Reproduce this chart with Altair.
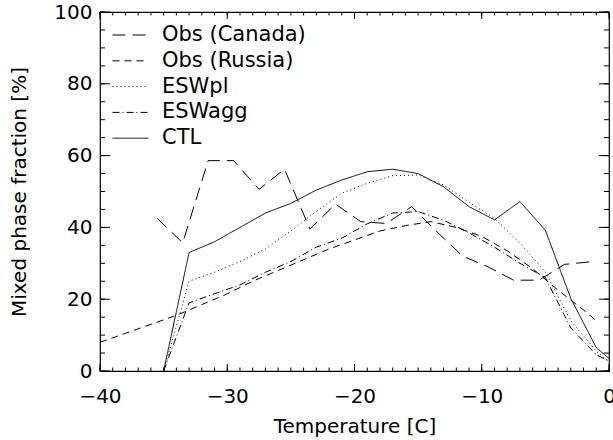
import altair as alt
import pandas as pd

# ---- data ----
t_model = [-35, -33, -31, -29, -27, -25, -23, -21, -19, -17, -15, -13, -11, -9, -7, -5, -3, -1, 0]
ctl = [0, 33, 36, 40, 44, 46.7, 50.4, 53.2, 55.5, 56.2, 55.0, 51.3, 45.8, 42.1, 47.2, 39.2, 20.2, 6.5, 3.5]
eswpl = [0, 25, 27.5, 30.5, 34, 39, 44.5, 49.5, 52.3, 54.4, 54.6, 51.8, 47, 42.5, 35.6, 27.5, 14, 5.5, 2.5]
eswagg = [0, 19, 21.5, 24, 27.5, 30.5, 34.5, 37, 41, 44, 44.4, 42, 38.5, 34.5, 30, 26, 12, 4.5, 2.8]

t_canada = [-35.5, -33.5, -31.5, -29.5, -27.5, -25.5, -23.5, -21.5, -19.5, -17.5,
            -15.5, -13.5, -11.5, -9.5, -7.5, -5.5, -3.5, -1.5]
canada = [42.5, 35.7, 58.6, 58.6, 50.6, 56.2, 39.5, 46.5, 41.6, 41.1,
          45.8, 38.7, 32, 29, 25.3, 25.3, 29.7, 30.4]

t_russia = [-40, -38, -36, -34, -32, -30, -28, -26, -24, -22, -20, -18, -16, -14,
            -12, -10, -8, -6, -4, -2, -1]
russia = [8, 10.5, 13, 15.5, 18.5, 21.5, 25, 28, 31, 34, 36.5, 39, 40.5, 41.6,
          40, 37.5, 33.5, 28.5, 22.5, 17, 14]

series_names = ["Obs (Canada)", "Obs (Russia)", "ESWpl", "ESWagg", "CTL"]
dash_patterns = [[13, 7], [7, 5], [1, 3], [7, 3, 1, 3], [1, 0]]

x_major = [-40, -30, -20, -10, 0]
x_minor = list(range(-40, 1))
y_major = [0, 20, 40, 60, 80, 100]
y_minor = list(range(0, 101, 5))

rows = []
for name, ts, vs in [("Obs (Canada)", t_canada, canada), ("Obs (Russia)", t_russia, russia),
                     ("ESWpl", t_model, eswpl), ("ESWagg", t_model, eswagg), ("CTL", t_model, ctl)]:
    for i, (t, v) in enumerate(zip(ts, vs)):
        rows.append({"series": name, "T": t, "V": v, "order": i})
df = pd.DataFrame(rows)

W, H = 509, 359
FONT = "DejaVu Sans"
xscale = alt.Scale(domain=[-40, 0], nice=False, zero=False)
yscale = alt.Scale(domain=[0, 100], nice=False)

lines = alt.Chart(df).mark_line(color="black", strokeWidth=1, clip=True).encode(
    x=alt.X("T:Q", scale=xscale,
            axis=alt.Axis(orient="bottom", values=x_major, ticks=False, tickSize=0,
                          domain=False, grid=False, labelPadding=15, labelFlush=False,
                          labelFont=FONT, labelFontSize=20, labelColor="black",
                          title="Temperature [C]", titleFont=FONT,
                          titleFontSize=20, titleFontWeight="normal", titleColor="black",
                          titlePadding=10, format="d")),
    y=alt.Y("V:Q", scale=yscale,
            axis=alt.Axis(orient="left", values=y_major, ticks=False, tickSize=0,
                          domain=False, grid=False, labelPadding=8, labelFont=FONT, labelFontSize=20,
                          labelColor="black", title="Mixed phase fraction [%]", titleFont=FONT,
                          titleFontSize=20, titleFontWeight="normal", titleColor="black",
                          titlePadding=24)),
    strokeDash=alt.StrokeDash("series:N",
                              scale=alt.Scale(domain=series_names, range=dash_patterns),
                              legend=alt.Legend(title=None, orient="none", legendX=12, legendY=11,
                                                symbolType="stroke", symbolSize=1296,
                                                symbolStrokeColor="black", symbolStrokeWidth=1,
                                                labelFont=FONT, labelFontSize=21, labelColor="black",
                                                labelOffset=13, clipHeight=24, rowPadding=1.8,
                                                padding=0)),
    detail="series:N",
    order="order:Q",
)


def xticks(values, y0, y1):
    return alt.Chart(pd.DataFrame({"T": values})).mark_rule(color="black", strokeWidth=1).encode(
        x=alt.X("T:Q", scale=xscale, axis=None),
        y=alt.value(y0), y2=alt.value(y1),
    )


def yticks(values, x0, x1):
    return alt.Chart(pd.DataFrame({"V": values})).mark_rule(color="black", strokeWidth=1).encode(
        y=alt.Y("V:Q", scale=yscale, axis=None),
        x=alt.value(x0), x2=alt.value(x1),
    )


tick_layers = [
    xticks(x_minor, H, H - 3.5), xticks(x_major, H, H - 7),      # bottom edge, inward
    xticks(x_minor, 0, 3.5), xticks(x_major, 0, 7),              # top edge, inward
    yticks(y_minor, 0, 5), yticks(y_major, 0, 10),               # left edge, inward
    yticks(y_minor, W, W - 5), yticks(y_major, W, W - 10),       # right edge, inward
]

chart = alt.layer(lines, *tick_layers).resolve_axis(
    x="independent", y="independent"
).properties(
    width=W, height=H,
    autosize=alt.AutoSizeParams(type="none"),
    padding={"left": 100, "top": 12, "right": 4, "bottom": 69},
    background="white",
).configure_view(stroke="black", strokeWidth=1.2)

chart.save("out.html", embed_options={"renderer": "svg", "actions": False})
